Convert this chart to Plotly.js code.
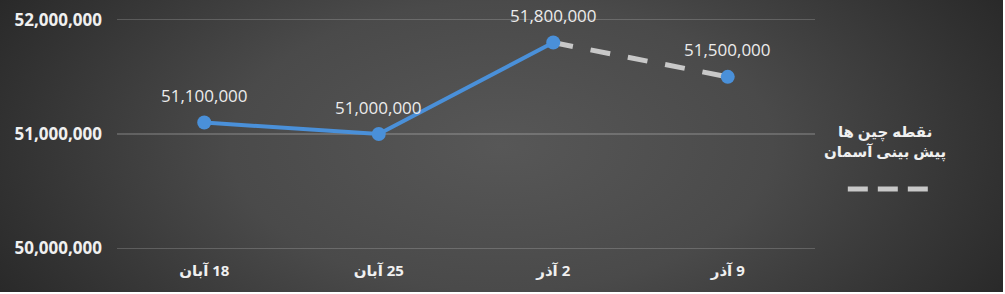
<!DOCTYPE html>
<html>
<head>
<meta charset="utf-8">
<script src="https://cdn.plot.ly/plotly-3.0.1.min.js"></script>
<style>
  html, body { margin: 0; padding: 0; background: #ffffff; }
  #chart {
    width: 1003px; height: 292px;
    background: radial-gradient(ellipse 60% 110% at 50% 50%, #575757 0%, #4a4a4a 45%, #333333 80%, #262626 100%);
  }
</style>
</head>
<body>
<div id="chart"></div>
<script>
// Data
const categories = ["18 آبان", "25 آبان", "2 آذر", "9 آذر"];
const prices = [51100000, 51000000, 51800000, 51500000];
const actualCount = 3; // first three points are actual, last one is forecast
const legendLines = ["نقطه چین ها", "پیش بینی آسمان"];
const yTicks = [50000000, 51000000, 52000000];

const fontFamily = "'Open Sans', 'DejaVu Sans', sans-serif";
const blue = "#4a90d9";
const gray = "#c8c8c8";
const RLM = "\u200F"; // right-to-left mark so Persian labels read right-to-left

const actualX = categories.slice(0, actualCount);
const actualY = prices.slice(0, actualCount);
const forecastX = categories.slice(actualCount - 1);
const forecastY = prices.slice(actualCount - 1);

const traces = [
  {
    x: forecastX, y: forecastY, type: "scatter", mode: "lines",
    line: { color: gray, width: 5, dash: "20px,18px" },
    hoverinfo: "skip", showlegend: false
  },
  {
    x: actualX, y: actualY, type: "scatter", mode: "lines",
    line: { color: blue, width: 4 },
    showlegend: false
  },
  {
    x: categories, y: prices, type: "scatter", mode: "markers",
    marker: { color: blue, size: 14 },
    showlegend: false
  }
];

const annotations = categories.map((c, i) => ({
  x: c, y: prices[i], xref: "x", yref: "y",
  text: prices[i].toLocaleString("en-US"),
  showarrow: false, yshift: 27, xanchor: "center",
  font: { family: fontFamily, size: 17, color: "#ececec" }
}));

annotations.push({
  xref: "paper", yref: "paper", x: 1.100, y: 0.469,
  xanchor: "center", yanchor: "middle",
  text: legendLines.join("<br>"),
  showarrow: false, align: "center",
  font: { family: fontFamily, size: 15, color: "#f0f0f0", weight: "bold" }
});

const layout = {
  width: 1003, height: 292,
  margin: { l: 117, r: 188, t: 18, b: 42 },
  paper_bgcolor: "rgba(0,0,0,0)",
  plot_bgcolor: "rgba(0,0,0,0)",
  showlegend: false,
  xaxis: {
    type: "category", range: [-0.5, 3.5],
    categoryorder: "array", categoryarray: categories,
    tickvals: categories,
    ticktext: categories.map(c => RLM + c),
    showgrid: false, zeroline: false, showline: false, ticks: "",
    ticklabelstandoff: 10,
    tickfont: { family: fontFamily, size: 15, color: "#f0f0f0", weight: "bold" }
  },
  yaxis: {
    range: [49985000, 52015000],
    tickvals: yTicks,
    ticktext: yTicks.map(v => v.toLocaleString("en-US")),
    showgrid: true, gridcolor: "rgba(255,255,255,0.18)", gridwidth: 1.5,
    zeroline: false, showline: false, ticks: "",
    ticklabelstandoff: 14,
    tickfont: { family: fontFamily, size: 17, color: "#f0f0f0", weight: "bold" }
  },
  annotations: annotations,
  shapes: [{
    type: "line", xref: "paper", yref: "paper",
    x0: 1.047, x1: 1.162, y0: 0.263, y1: 0.263,
    line: { color: gray, width: 5, dash: "20px,10px" }
  }]
};

Plotly.newPlot("chart", traces, layout, { displayModeBar: false, staticPlot: true });
</script>
</body>
</html>
